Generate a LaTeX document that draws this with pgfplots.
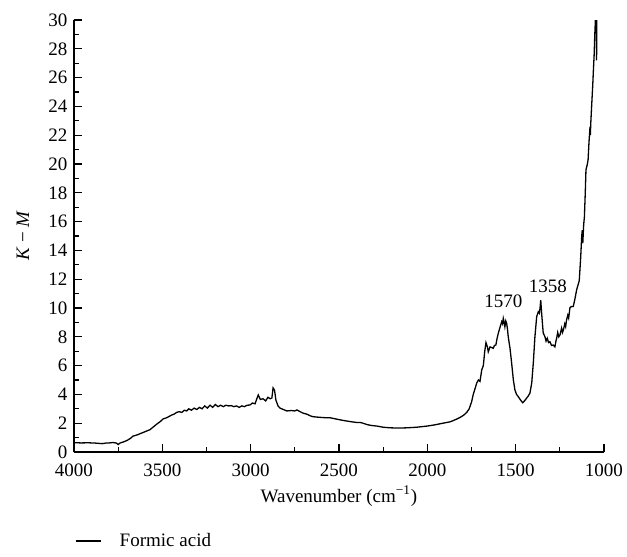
\documentclass[border=0pt]{standalone}
\usepackage{fontspec}
\setmainfont{Liberation Serif}
\usepackage{pgfplots}
\pgfplotsset{compat=1.18}
\pgfplotstableread{
x y
4000 0.65
3960 0.63
3920 0.64
3880 0.62
3840 0.58
3820 0.62
3800 0.63
3780 0.66
3760 0.62
3750 0.52
3740 0.62
3720 0.70
3700 0.80
3680 0.95
3666 1.10
3640 1.20
3620 1.30
3600 1.40
3570 1.55
3550 1.75
3530 1.95
3513 2.10
3495 2.30
3475 2.38
3450 2.55
3430 2.65
3419 2.75
3405 2.80
3390 2.75
3375 2.90
3362 2.85
3350 3.00
3335 2.90
3320 3.05
3305 2.95
3290 3.10
3275 3.00
3260 3.20
3245 3.05
3230 3.25
3215 3.10
3200 3.30
3185 3.15
3170 3.25
3155 3.15
3140 3.25
3125 3.20
3110 3.22
3095 3.15
3080 3.20
3065 3.10
3050 3.20
3035 3.15
3020 3.25
3004 3.26
2990 3.40
2975 3.35
2965 3.70
2957 3.96
2945 3.65
2930 3.70
2915 3.55
2902 3.80
2890 3.70
2880 3.75
2873 4.45
2865 4.30
2857 3.60
2845 3.20
2834 3.05
2815 2.95
2795 2.85
2770 2.88
2750 2.85
2738 2.92
2720 2.80
2704 2.70
2680 2.62
2660 2.50
2647 2.45
2620 2.42
2600 2.40
2575 2.38
2551 2.38
2520 2.30
2500 2.25
2480 2.20
2455 2.15
2430 2.10
2400 2.05
2380 2.05
2364 2.00
2340 1.90
2320 1.85
2300 1.82
2285 1.80
2250 1.72
2211 1.68
2160 1.66
2115 1.68
2060 1.72
2002 1.80
1960 1.88
1911 2.00
1870 2.10
1840 2.25
1815 2.40
1795 2.55
1777 2.75
1763 3.00
1749 3.50
1740 4.00
1730 4.40
1720 4.80
1711 5.00
1702 4.90
1692 5.70
1683 6.00
1675 7.00
1668 7.60
1660 7.30
1655 6.96
1645 7.30
1635 7.25
1627 7.20
1620 7.40
1612 7.43
1605 7.90
1598 8.26
1590 8.60
1579 9.05
1574 8.90
1570 9.28
1565 9.00
1561 8.70
1556 9.10
1551 8.94
1546 8.50
1542 8.00
1532 7.20
1523 6.20
1513 5.00
1504 4.30
1495 4.00
1485 3.84
1472 3.60
1460 3.42
1450 3.55
1438 3.74
1428 3.90
1419 4.10
1409 4.80
1400 6.20
1391 8.00
1381 9.40
1372 9.74
1366 9.64
1362 10.0
1358 10.55
1353 9.64
1344 8.26
1334 8.00
1328 7.70
1321 7.90
1314 7.60
1306 7.66
1297 7.40
1287 7.43
1278 7.30
1272 7.70
1268 7.90
1262 8.30
1256 8.00
1249 8.13
1240 8.60
1235 8.30
1230 8.47
1222 8.90
1217 8.70
1212 9.17
1205 9.50
1200 9.30
1193 10.0
1185 10.1
1174 10.1
1165 10.6
1155 11.25
1147 11.6
1140 11.9
1132 13.5
1126 15.0
1123 15.4
1120 14.5
1115 15.8
1111 16.3
1106 18.0
1102 19.6
1094 20.0
1090 20.3
1085 21.5
1079 22.6
1077 22.0
1075 22.8
1070 24.0
1064 25.4
1060 26.5
1056 27.5
1052 29.0
1047 30.5
1044 31.0
1042 27.2
1041 30.0
1039 32.0
}\spectrum
\begin{document}
\fontsize{9.5}{11}\selectfont
\begin{tikzpicture}
\begin{axis}[
  scale only axis, width=265pt, height=216pt,
  x dir=reverse, xmin=1000, xmax=4000, ymin=0, ymax=30,
  axis x line*=bottom, axis y line*=left,
  xtick={1000,1500,...,4000}, minor x tick num=1,
  ytick={0,2,...,30}, minor y tick num=1,
  tick align=inside, major tick length=4pt, minor tick length=2.5pt,
  tick style={black, line width=0.6pt},
  axis line style={black, line width=0.6pt},
  xlabel={Wavenumber (cm\textsuperscript{−1})},
  ylabel={{\itshape K} − {\itshape M}},
  /pgf/number format/assume math mode=true,
  /pgf/number format/1000 sep={},
  tick label style={font=\fontsize{9.5}{11}\selectfont},
  xticklabel style={yshift=-2.5pt},
  label style={font=\fontsize{9.5}{11}\selectfont},
  xlabel style={yshift=2pt},
  ylabel style={yshift=3pt},
  legend style={draw=none, fill=none, at={(axis description cs:-0.01,-0.206)}, anchor=west, font=\fontsize{9.5}{11}\selectfont},
  legend image code/.code={\draw[#1] (0pt,0pt) -- (12.5pt,0pt); \path[draw=none] (0pt,0pt) -- (20pt,0pt);},
]
\addplot[black, line width=0.65pt] table[x=x, y=y] {\spectrum};
\addlegendentry{Formic acid}
\node at (axis cs:1569,10.5) {1570};
\node at (axis cs:1317,11.5) {1358};
\coordinate (O) at (rel axis cs:0,0);
\end{axis}
\pgfresetboundingbox
\path (O) ++(-37pt,-52.5pt) rectangle ++(313.5pt,278.5pt);
\end{tikzpicture}
\end{document}
